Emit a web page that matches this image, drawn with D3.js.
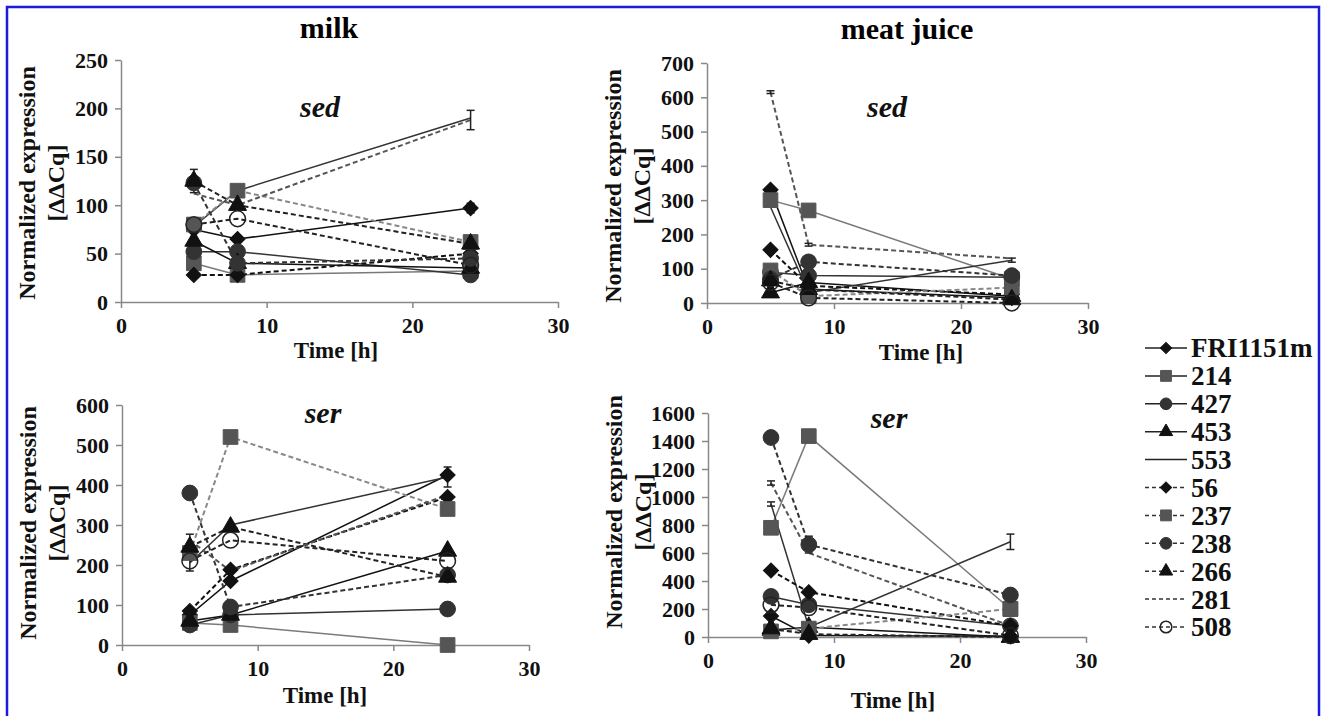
<!DOCTYPE html>
<html>
<head>
<meta charset="utf-8">
<script src="https://cdn.jsdelivr.net/npm/d3@7"></script>
<style>
  body { margin: 0; background: #fff; }
  svg { display: block; font-family: "Liberation Serif", "Times New Roman", serif; }
</style>
</head>
<body>
<script>
// sampling times (h)
const hours = [5, 8, 24];
const strains = ["FRI1151m", "214", "427", "453", "553", "56", "237", "238", "266", "281", "508"];

// values per strain, in the order of `strains`, at 5 h, 8 h, 24 h
const milkSed = [
    [75, 65, 97], [40, 28, 32], [52, 52, 28], [63, 40, 35], [78, 115, 190],
    [28, 28, 50], [80, 115, 62], [123, 40, 45], [125, 100, 60], [112, 100, 188], [80, 86, 38]
];
const meatSed = [
    [330, 40, 15], [300, 270, 70], [90, 80, 75], [30, 60, 20], [280, 30, 125],
    [155, 50, 25], [95, 20, 45], [70, 120, 80], [65, 40, 10], [615, 170, 130], [60, 15, 0]
];
const milkSer = [
    [75, 160, 425], [55, 50, 0], [50, 75, 90], [60, 75, 235], [205, 300, 420],
    [85, 188, 370], [230, 520, 340], [380, 95, 175], [245, 295, 170], [262, 185, 375], [210, 262, 210]
];
const meatSer = [
    [150, 10, 5], [780, 1435, 200], [290, 230, 80], [50, 70, 0], [950, 70, 680],
    [475, 320, 80], [40, 60, 200], [1425, 660, 300], [60, 20, 0], [1100, 600, 80], [230, 210, 10]
];

// error bars: [strain, hour, +/- value]
const milkSedErr = [["266", 5, 12], ["281", 24, 10], ["FRI1151m", 24, 5]];
const meatSedErr = [["281", 5, 4], ["281", 8, 4], ["553", 24, 6]];
const milkSerErr = [["281", 5, 15], ["508", 5, 25], ["553", 24, 25]];
const meatSerErr = [["281", 5, 15], ["553", 5, 15], ["238", 8, 60], ["553", 24, 55]];

const style = {
    "FRI1151m": { sym: "diamond", fill: "#111", stroke: "#111", dash: null },
    "214":      { sym: "square",  fill: "#555", stroke: "#7a7a7a", dash: null },
    "427":      { sym: "circle",  fill: "#333", stroke: "#333", dash: null },
    "453":      { sym: "triangle", fill: "#111", stroke: "#111", dash: null },
    "553":      { sym: null,      fill: null,   stroke: "#333", dash: null },
    "56":       { sym: "diamond", fill: "#111", stroke: "#111", dash: "5,3" },
    "237":      { sym: "square",  fill: "#555", stroke: "#888", dash: "5,3" },
    "238":      { sym: "circle",  fill: "#333", stroke: "#333", dash: "5,3" },
    "266":      { sym: "triangle", fill: "#111", stroke: "#222", dash: "5,3" },
    "281":      { sym: null,      fill: null,   stroke: "#555", dash: "5,3" },
    "508":      { sym: "open",    fill: "none", stroke: "#222", dash: "5,3" }
};

const symbolPath = (type, k) => {
    if (type === "diamond") return d3.symbol(d3.symbolSquare, 115 * k)();
    if (type === "square") return d3.symbol(d3.symbolSquare, 215 * k)();
    if (type === "triangle") return d3.symbol(d3.symbolTriangle, 140 * k)();
    return d3.symbol(d3.symbolCircle, 195 * k)();
};
const marker = (sel, type, k, cx, cy, fill) => sel.append("path")
    .attr("d", symbolPath(type, k))
    .attr("transform", `translate(${cx},${cy})` + (type === "diamond" ? " rotate(45)" : ""))
    .attr("fill", fill)
    .attr("stroke", type === "open" ? "#222" : fill)
    .attr("stroke-width", type === "open" ? 1.5 : 1);

const panels = [
    { vals: milkSed, errs: milkSedErr, gene: "sed", yMax: 250, yStep: 50,
      x: [121, 558], y: [302, 60], geneX: 320, geneY: 117, timeX: 336, timeY: 358, labY: 183 },
    { vals: meatSed, errs: meatSedErr, gene: "sed", yMax: 700, yStep: 100,
      x: [707, 1088], y: [303, 63], geneX: 887, geneY: 117, timeX: 921, timeY: 360, labY: 186 },
    { vals: milkSer, errs: milkSerErr, gene: "ser", yMax: 600, yStep: 100,
      x: [122, 529], y: [645, 405], geneX: 323, geneY: 423, timeX: 325, timeY: 703, labY: 523 },
    { vals: meatSer, errs: meatSerErr, gene: "ser", yMax: 1600, yStep: 200,
      x: [708, 1086], y: [637, 413], geneX: 889, geneY: 428, timeX: 893, timeY: 708, labY: 512 }
];

const W = 1322, H = 716;
const svg = d3.select("body").append("svg").attr("width", W).attr("height", H);

svg.append("rect")
    .attr("x", 7).attr("y", 7).attr("width", 1312).attr("height", 720)
    .attr("fill", "none").attr("stroke", "#1a1ae0").attr("stroke-width", 2.5);

svg.append("text").attr("x", 329).attr("y", 38).attr("text-anchor", "middle")
    .attr("font-size", 30).attr("font-weight", "bold").text("milk");
svg.append("text").attr("x", 907).attr("y", 39).attr("text-anchor", "middle")
    .attr("font-size", 30).attr("font-weight", "bold").text("meat juice");

panels.forEach((p) => {
    const xScale = d3.scaleLinear().domain([0, 30]).range(p.x);
    const yScale = d3.scaleLinear().domain([0, p.yMax]).range(p.y);
    const g = svg.append("g");

    const yAxis = g.append("g")
        .attr("transform", `translate(${p.x[0]},0)`)
        .call(d3.axisLeft(yScale).tickValues(d3.range(0, p.yMax + 1, p.yStep))
            .tickFormat(d3.format("d")).tickSize(6).tickSizeOuter(0));
    const xAxis = g.append("g")
        .attr("transform", `translate(0,${p.y[0]})`)
        .call(d3.axisBottom(xScale).tickValues([0, 10, 20, 30]).tickSize(6).tickSizeOuter(0));

    [yAxis, xAxis].forEach((ax) => {
        ax.select(".domain").attr("stroke", "#888").attr("stroke-width", 1.5);
        ax.selectAll(".tick line").attr("stroke", "#888").attr("stroke-width", 1.5);
        ax.selectAll("text").attr("fill", "#111").attr("font-size", 22)
            .attr("font-weight", "bold").attr("font-family", "Liberation Serif, serif");
    });
    yAxis.selectAll("text").attr("x", -13);
    xAxis.selectAll("text").attr("y", 31).attr("dy", 0);

    // y label, two lines
    const ly = g.append("text").attr("text-anchor", "middle")
        .attr("transform", `translate(${p.x[0] - 86},${p.labY}) rotate(-90)`)
        .attr("font-size", 24).attr("font-weight", "bold").attr("fill", "#111");
    ly.append("tspan").attr("x", 0).attr("y", 0).text("Normalized expression");
    ly.append("tspan").attr("x", 0).attr("y", 29).text("[ΔΔCq]");

    g.append("text").attr("x", p.timeX).attr("y", p.timeY).attr("text-anchor", "middle")
        .attr("font-size", 23).attr("font-weight", "bold").attr("fill", "#111").text("Time [h]");
    g.append("text").attr("x", p.geneX).attr("y", p.geneY).attr("text-anchor", "middle")
        .attr("font-size", 30).attr("font-weight", "bold").attr("font-style", "italic")
        .attr("fill", "#111").text(p.gene);

    const line = d3.line().x((d, i) => xScale(hours[i])).y((d) => yScale(d));

    g.selectAll(".series").data(p.vals).enter().append("path")
        .attr("d", (d) => line(d))
        .attr("fill", "none")
        .attr("stroke", (d, i) => style[strains[i]].stroke)
        .attr("stroke-width", (d, i) => style[strains[i]].dash ? 2 : 1.5)
        .attr("stroke-dasharray", (d, i) => style[strains[i]].dash);

    // error bars
    p.errs.forEach(([s, h, e]) => {
        const v = p.vals[strains.indexOf(s)][hours.indexOf(h)];
        const cx = xScale(h);
        const eb = g.append("g").attr("stroke", "#222").attr("stroke-width", 1.5);
        eb.append("line").attr("x1", cx).attr("x2", cx).attr("y1", yScale(v - e)).attr("y2", yScale(v + e));
        [v - e, v + e].forEach((t) => eb.append("line")
            .attr("x1", cx - 4).attr("x2", cx + 4).attr("y1", yScale(t)).attr("y2", yScale(t)));
    });

    // markers
    p.vals.forEach((row, si) => {
        const st = style[strains[si]];
        if (!st.sym) return;
        row.forEach((v, hi) => marker(g, st.sym, 1, xScale(hours[hi]), yScale(v), st.fill));
    });
});

// legend
const legend = svg.append("g");
strains.forEach((s, i) => {
    const st = style[s];
    const y = 348 + i * 27.9;
    legend.append("line").attr("x1", 1145).attr("x2", 1187).attr("y1", y).attr("y2", y)
        .attr("stroke", st.dash ? "#333" : "#222").attr("stroke-width", 1.5)
        .attr("stroke-dasharray", st.dash ? "4,3" : null);
    if (st.sym) marker(legend, st.sym, 0.55, 1166, y, st.fill);
    legend.append("text").attr("x", 1191).attr("y", y).attr("dy", "0.35em")
        .attr("font-size", 27).attr("font-weight", "bold").attr("fill", "#111").text(s);
});
</script>
</body>
</html>
